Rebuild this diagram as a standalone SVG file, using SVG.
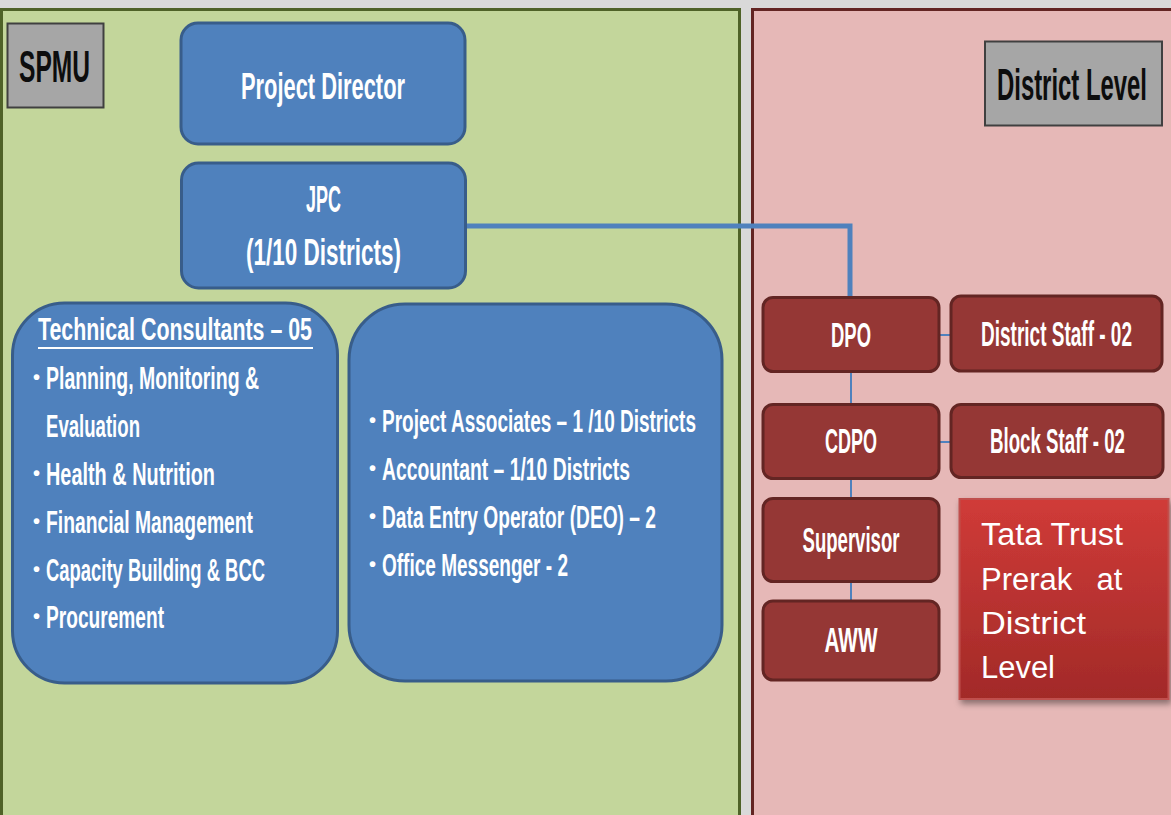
<svg xmlns="http://www.w3.org/2000/svg" width="1171" height="815" viewBox="0 0 1171 815">
<style>
.bold{font-family:"Liberation Sans Narrow","Liberation Sans","DejaVu Sans Condensed",sans-serif;font-weight:bold;fill:#ffffff}
.lab{font-family:"Liberation Sans Narrow","Liberation Sans","DejaVu Sans Condensed",sans-serif;font-weight:bold;fill:#0d0d0d;font-size:29.5px}
.t27{font-size:27px}
.t26{font-size:26px}
.t23{font-size:23.5px}
.r23{font-size:23px}
.mid{text-anchor:middle}
.bul{font-size:20px}
.blue{fill:#4f81bd;stroke:#385d8a;stroke-width:3}
.red{fill:#953735;stroke:#632523;stroke-width:3}
.gray{fill:#a6a6a6;stroke:#404040;stroke-width:2}
.thin{fill:none;stroke:#4f81bd;stroke-width:2}
.reg{font-family:"Liberation Sans","Open Sans",sans-serif;fill:#ffffff;font-size:31px}
</style>
<defs>
<linearGradient id="tataGrad" x1="0" y1="0" x2="0" y2="1">
<stop offset="0" stop-color="#d03b38"/>
<stop offset="1" stop-color="#a22a28"/>
</linearGradient>
<filter id="shadow" x="-10%" y="-10%" width="130%" height="130%">
<feDropShadow dx="2" dy="4" stdDeviation="3" flood-color="#000000" flood-opacity="0.4"/>
</filter>
</defs>
<rect x="0" y="0" width="1171" height="815" fill="#d9d9d9"/>
<g id="panel-spmu">
<rect x="1.5" y="9.5" width="738" height="830" fill="#c3d69b" stroke="#4f6228" stroke-width="3"/>
</g>
<g id="panel-district">
<rect x="752.5" y="9.5" width="440" height="830" fill="#e6b8b7" stroke="#632523" stroke-width="3"/>
</g>
<g id="connectors">
<path d="M466 226 H850 V297" fill="none" stroke="#4f81bd" stroke-width="5"/>
<path class="thin" d="M851 372 V404"/>
<path class="thin" d="M851 479 V498"/>
<path class="thin" d="M851 582 V601"/>
<path class="thin" d="M939 335 H951"/>
<path class="thin" d="M939 442 H951"/>
</g>
<g id="spmu-label">
<rect class="gray" x="7.5" y="23.5" width="96" height="84"/>
<text class="lab" transform="matrix(1,0,0,1.5,19,82)" x="0" y="0" textLength="71" lengthAdjust="spacingAndGlyphs">SPMU</text>
</g>
<g id="district-label">
<rect class="gray" x="985" y="41.5" width="177" height="84"/>
<text class="lab" style="font-size:26px" transform="matrix(1,0,0,1.7,997,100)" x="0" y="0" textLength="150" lengthAdjust="spacingAndGlyphs">District Level</text>
</g>
<g id="project-director">
<rect class="blue" x="181" y="23" width="284" height="121" rx="17"/>
<text class="bold t27 mid" transform="matrix(1,0,0,1.4,323,99)" x="0" y="0" textLength="164" lengthAdjust="spacingAndGlyphs">Project Director</text>
</g>
<g id="jpc">
<rect class="blue" x="181.5" y="163" width="284" height="125" rx="17"/>
<text class="bold t27 mid" transform="matrix(1,0,0,1.4,323.5,212)" x="0" y="0" textLength="35" lengthAdjust="spacingAndGlyphs">JPC</text>
<text class="bold t27 mid" transform="matrix(1,0,0,1.4,323.5,265)" x="0" y="0" textLength="155" lengthAdjust="spacingAndGlyphs">(1/10 Districts)</text>
</g>
<g id="technical-consultants">
<rect class="blue" x="12.5" y="303" width="325" height="380" rx="52"/>
<text class="bold t26" transform="matrix(1,0,0,1.24,38,340)" x="0" y="0" textLength="274" lengthAdjust="spacingAndGlyphs">Technical Consultants – 05</text>
<rect x="38" y="347" width="275" height="2" fill="#ffffff"/>
<text class="bold bul" x="33" y="384">•</text>
<text class="bold t23" transform="matrix(1,0,0,1.3,46,389)" x="0" y="0" textLength="213" lengthAdjust="spacingAndGlyphs">Planning, Monitoring &amp;</text>
<text class="bold t23" transform="matrix(1,0,0,1.3,46,437)" x="0" y="0" textLength="94" lengthAdjust="spacingAndGlyphs">Evaluation</text>
<text class="bold bul" x="33" y="480">•</text>
<text class="bold t23" transform="matrix(1,0,0,1.3,46,485)" x="0" y="0" textLength="169" lengthAdjust="spacingAndGlyphs">Health &amp; Nutrition</text>
<text class="bold bul" x="33" y="528">•</text>
<text class="bold t23" transform="matrix(1,0,0,1.3,46,533)" x="0" y="0" textLength="207" lengthAdjust="spacingAndGlyphs">Financial Management</text>
<text class="bold bul" x="33" y="576">•</text>
<text class="bold t23" transform="matrix(1,0,0,1.3,46,581)" x="0" y="0" textLength="219" lengthAdjust="spacingAndGlyphs">Capacity Building &amp; BCC</text>
<text class="bold bul" x="33" y="623">•</text>
<text class="bold t23" transform="matrix(1,0,0,1.3,46,628)" x="0" y="0" textLength="118" lengthAdjust="spacingAndGlyphs">Procurement</text>
</g>
<g id="staff-list">
<rect class="blue" x="349" y="304" width="373" height="377" rx="56"/>
<text class="bold bul" x="369" y="427">•</text>
<text class="bold t23" transform="matrix(1,0,0,1.3,382,432)" x="0" y="0" textLength="314" lengthAdjust="spacingAndGlyphs">Project Associates – 1 /10 Districts</text>
<text class="bold bul" x="369" y="475">•</text>
<text class="bold t23" transform="matrix(1,0,0,1.3,382,480)" x="0" y="0" textLength="248" lengthAdjust="spacingAndGlyphs">Accountant – 1/10 Districts</text>
<text class="bold bul" x="369" y="523">•</text>
<text class="bold t23" transform="matrix(1,0,0,1.3,382,528)" x="0" y="0" textLength="274" lengthAdjust="spacingAndGlyphs">Data Entry Operator (DEO) – 2</text>
<text class="bold bul" x="369" y="571">•</text>
<text class="bold t23" transform="matrix(1,0,0,1.3,382,576)" x="0" y="0" textLength="186" lengthAdjust="spacingAndGlyphs">Office Messenger - 2</text>
</g>
<g id="dpo">
<rect class="red" x="763" y="297.5" width="176" height="74" rx="10"/>
<text class="bold r23 mid" transform="matrix(1,0,0,1.5,851,347)" x="0" y="0" textLength="40" lengthAdjust="spacingAndGlyphs">DPO</text>
</g>
<g id="district-staff">
<rect class="red" x="951" y="296" width="211" height="75" rx="10"/>
<text class="bold r23 mid" transform="matrix(1,0,0,1.5,1056.5,346)" x="0" y="0" textLength="151" lengthAdjust="spacingAndGlyphs">District Staff - 02</text>
</g>
<g id="cdpo">
<rect class="red" x="763" y="404.5" width="176" height="74" rx="10"/>
<text class="bold r23 mid" transform="matrix(1,0,0,1.5,851,453)" x="0" y="0" textLength="52" lengthAdjust="spacingAndGlyphs">CDPO</text>
</g>
<g id="block-staff">
<rect class="red" x="951" y="404.5" width="212" height="73" rx="10"/>
<text class="bold r23 mid" transform="matrix(1,0,0,1.5,1057.5,453)" x="0" y="0" textLength="135" lengthAdjust="spacingAndGlyphs">Block Staff - 02</text>
</g>
<g id="supervisor">
<rect class="red" x="763" y="498.5" width="176" height="83" rx="10"/>
<text class="bold r23 mid" transform="matrix(1,0,0,1.5,851,552)" x="0" y="0" textLength="97" lengthAdjust="spacingAndGlyphs">Supervisor</text>
</g>
<g id="aww">
<rect class="red" x="763" y="601" width="176" height="79" rx="10"/>
<text class="bold r23 mid" transform="matrix(1,0,0,1.5,851,652)" x="0" y="0" textLength="53" lengthAdjust="spacingAndGlyphs">AWW</text>
</g>
<g id="tata-trust">
<rect x="959.5" y="499" width="209" height="200" fill="url(#tataGrad)" stroke="#c0504d" stroke-width="2" filter="url(#shadow)"/>
<text class="reg" x="981" y="545" textLength="142" lengthAdjust="spacingAndGlyphs">Tata Trust</text>
<text class="reg" x="981" y="590" xml:space="preserve" word-spacing="3.5">Prerak  at</text>
<text class="reg" x="981" y="634" textLength="105" lengthAdjust="spacingAndGlyphs">District</text>
<text class="reg" x="981" y="678" textLength="74" lengthAdjust="spacingAndGlyphs">Level</text>
</g>
</svg>
